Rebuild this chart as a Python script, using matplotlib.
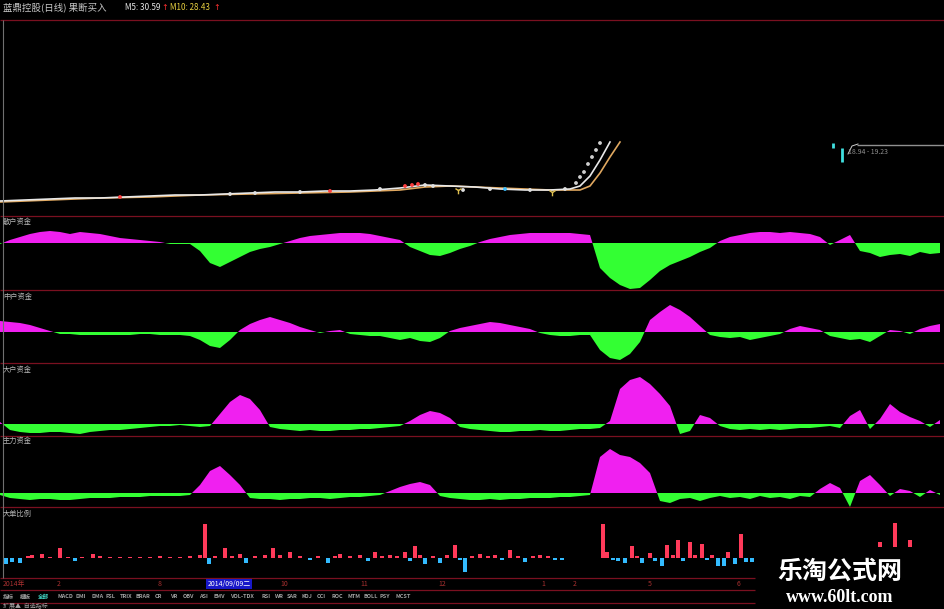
import numpy as np
import matplotlib
matplotlib.use("Agg")
import matplotlib.pyplot as plt
from matplotlib.patches import Rectangle

plt.rcParams['font.family'] = ['Noto Sans CJK SC', 'DejaVu Sans']

# ---- data (units = screen px relative to each zero line) ----
STEP = 10
retail = [-1, 3, 6, 9, 11, 12, 11, 9, 11, 10,
          9, 7, 5, 4, 3, 2, 1, -1, -1, -1,
          -8, -20, -24, -19, -14, -9, -6, -4, -1, 2,
          5, 7, 8, 9, 10, 10, 10, 9, 7, 5,
          3, -4, -8, -12, -13, -10, -6, -3, 1, 4,
          6, 8, 9, 10, 10, 10, 10, 10, 9, 8,
          -25, -35, -42, -46, -45, -37, -28, -22, -18, -14,
          -9, -5, 2, 6, 8, 10, 11, 11, 10, 11,
          10, 9, 6, -2, 3, 8, -8, -10, -14, -12,
          -11, -13, -9, -11, -10]
middle = [11, 10, 9, 7, 4, 1, -2, -2, -3, -3,
          -3, -3, -3, -3, -2, -2, -3, -3, -3, -4,
          -8, -14, -16, -8, 2, 8, 12, 15, 12, 9,
          5, 2, -1, 1, 2, -2, -3, -4, -4, -6,
          -8, -6, -9, -10, -6, 1, 4, 6, 8, 10,
          9, 7, 5, 3, -1, -3, -4, -4, -3, -3,
          -18, -26, -28, -22, -10, 12, 20, 27, 22, 15,
          6, -3, -5, -6, -5, -8, -6, -4, -2, 3,
          6, 4, 2, -4, -6, -8, -7, -10, -4, 2,
          1, -2, 3, 6, 8]
large = [2, -6, -8, -9, -9, -8, -8, -9, -10, -8,
         -7, -6, -6, -5, -4, -3, -2, -2, -1, -2,
         -3, -2, 10, 22, 29, 25, 14, -3, -5, -6,
         -7, -6, -7, -7, -6, -6, -5, -5, -4, -3,
         -2, 3, 9, 13, 11, 6, -3, -5, -6, -7,
         -8, -8, -7, -7, -6, -7, -7, -6, -5, -5,
         -4, 3, 35, 44, 47, 40, 30, 18, -10, -7,
         9, 6, -2, -5, -6, -5, -6, -5, -6, -5,
         -4, -4, -3, -2, -4, 8, 14, -5, 5, 20,
         12, 7, 3, -3, 4]
main_fund = [-2, -5, -6, -7, -6, -6, -7, -7, -6, -5,
             -5, -5, -4, -4, -4, -3, -3, -3, -3, -2,
             8, 22, 27, 18, 8, -5, -6, -6, -7, -6,
             -6, -5, -5, -6, -5, -4, -4, -3, -2, 2,
             6, 9, 11, 8, -3, -5, -6, -7, -7, -6,
             -7, -6, -6, -5, -5, -5, -4, -4, -3, -2,
             36, 44, 38, 36, 30, 20, -8, -10, -6, -5,
             -8, -5, -3, -5, -4, -6, -3, -5, -4, -6,
             -3, -4, 4, 10, 5, -14, 12, 18, 8, -3,
             4, 2, -4, 3, -2]

bar_x = [6, 12, 20, 28, 32, 42, 50, 60, 68, 75, 82, 93, 100, 110, 120, 130, 140, 150, 160, 170,
         180, 190, 200, 205, 209, 215, 225, 232, 240, 246, 255, 265, 273, 280, 290, 300, 310, 318,
         328, 335, 340, 350, 360, 368, 375, 382, 390, 397, 405, 410, 415, 420, 425, 433, 440, 447,
         455, 460, 465, 472, 480, 488, 495, 502, 510, 518, 525, 533, 540, 548, 555, 562,
         603, 607, 613, 618, 625, 632, 637, 642, 650, 655, 662, 667, 673, 678, 683, 690, 695, 702,
         707, 712, 718, 724, 728, 735, 741, 746, 752,
         865, 880, 895, 910, 925]
bar_v = [-6, -4, -5, 2, 3, 4, 1, 10, 1, -3, 1, 4, 2, 1, 1, 1, 1, 1, 2, 1,
         1, 2, 3, 34, -6, 2, 10, 2, 4, -5, 2, 3, 10, 3, 6, 2, -2, 2,
         -5, 2, 4, 2, 3, -3, 6, 2, 3, 2, 6, -3, 12, 3, -6, 2, -5, 3,
         13, -2, -14, 2, 4, 2, 3, -2, 8, 2, -4, 2, 3, 2, -2, -2,
         34, 6, -2, -3, -5, 12, 2, -5, 5, -3, -8, 13, 3, 18, -3, 16, 3, 14,
         -2, 3, -8, -8, 6, -6, 24, -4, -4,
         10, 16, 35, 18, 3]

ma5_x = [0, 25, 50, 75, 100, 125, 150, 175, 200, 225, 250, 275, 300, 325, 350, 375, 400,
         425, 450, 475, 500, 525, 550, 570, 580, 590, 600, 610]
ma5_h = [15, 16, 17, 18, 18, 19, 20, 21, 21, 22, 23, 24, 24, 25, 25, 26, 28,
         31, 30, 29, 27, 26, 26, 27, 30, 40, 56, 74]
ma10_x = [0, 50, 100, 150, 200, 250, 300, 350, 400, 425, 450, 475, 500, 525, 550, 570,
          580, 590, 600, 610, 620]
ma10_h = [14, 16, 18, 19, 21, 22, 23, 24, 26, 29, 30, 29, 28, 27, 26, 26,
          26, 30, 43, 59, 74]
dot_x = [120, 230, 255, 300, 330, 380, 405, 412, 418, 425, 433, 463, 490, 505, 530, 565,
         576, 580, 584, 588, 592, 596, 600]
dot_h = [19, 22, 23, 24, 25, 27, 30, 31, 32, 31, 30, 26, 27, 27, 26, 27,
         33, 39, 44, 52, 59, 66, 73]
dot_c = ['#ff4040', '#e0e0e0', '#e0e0e0', '#e0e0e0', '#ff4040', '#e0e0e0', '#ff4040', '#ff4040',
         '#ff4040', '#e0e0e0', '#e0e0e0', '#e0e0e0', '#e0e0e0', '#40c0ff', '#e0e0e0', '#e0e0e0',
         '#d0d0d0', '#d0d0d0', '#d0d0d0', '#d0d0d0', '#d0d0d0', '#d0d0d0', '#d0d0d0']
cross_x = [458, 552]
cross_h = [26, 24]

date_labels = ['2014年', '2', '8', '10', '11', '12', '1', '2', '5', '6']
date_pos = [3, 57, 158, 280, 360, 438, 541, 573, 648, 737]
menu_words = ['指标', '模板', '全部', 'MACD', 'DMI', 'DMA', 'FSL', 'TRIX', 'BRAR', 'CR', 'VR', 'OBV',
              'ASI', 'EMV', 'VOL-TDX', 'RSI', 'WR', 'SAR', 'KDJ', 'CCI', 'ROC', 'MTM', 'BOLL',
              'PSY', 'MCST']
menu_pos = [3, 20, 38, 57, 76, 91, 106, 120, 135, 155, 170, 183, 199, 214, 230, 261, 275, 287,
            302, 317, 332, 347, 363, 380, 395]

W, H = 945, 609
MAG, GRN = '#f020f0', '#33ff33'
SEP = '#7a1020'

fig = plt.figure(figsize=(W / 100, H / 100), dpi=100, facecolor='black')


def panel(top, bot):
    ax = fig.add_axes([0, 1 - bot / H, 1, (bot - top) / H])
    ax.set_facecolor('black')
    ax.set_xlim(0, W)
    ax.axis('off')
    return ax


# price panel
axp = panel(20, 216)
axp.set_ylim(0, 196)
axp.plot(ma10_x, ma10_h, color='#e0a860', lw=1.2)
axp.plot(ma5_x, ma5_h, color='#e8e8e8', lw=1.2)
axp.scatter(dot_x, dot_h, s=3, c=dot_c, zorder=3)
axp.scatter(cross_x, cross_h, s=30, marker='1', c='#e0c050', lw=1, zorder=3)
axp.vlines([833, 842], [68, 54], [73, 68], color='#40e0e0', lw=2)
axp.plot([848, 852, 858], [62, 70, 72], color='#d0d0d0', lw=0.7)
axp.hlines(71, 857, W, color='#909090', lw=1)
axp.text(848, 64, '18.94 - 19.23', color='#909090', fontsize=5, va='center')

# fund panels
x = np.arange(len(retail)) * STEP
for (top, bot, zero), vals in zip([(216, 290, 243), (290, 363, 332),
                                    (363, 436, 424), (436, 507, 493)],
                                   [retail, middle, large, main_fund]):
    ax = panel(top, bot)
    ax.set_ylim(-(bot - zero), zero - top)
    v = np.array(vals, dtype=float)
    ax.fill_between(x, v, 0, where=v >= 0, interpolate=True, color=MAG, lw=0)
    ax.fill_between(x, v, 0, where=v <= 0, interpolate=True, color=GRN, lw=0)

# big-order ratio bars
axb = panel(507, 578)
axb.set_ylim(-(578 - 558), 558 - 507)
bv = np.array(bar_v)
axb.bar(bar_x, bv, width=3.2, color=np.where(bv >= 0, '#ff3a5a', '#33bbff'), lw=0)

# overlay: separators, labels, watermark
ov = fig.add_axes([0, 0, 1, 1])
ov.set_zorder(10)
ov.patch.set_alpha(0)
ov.set_xlim(0, W)
ov.set_ylim(H, 0)
ov.axis('off')
ov.hlines([20, 216, 290, 363, 436, 507], 0, W, color=SEP, lw=0.9)
ov.hlines([578, 590, 603], 0, 755, color=SEP, lw=0.9)
ov.vlines(3, 20, 578, color='#707070', lw=0.8)

ov.text(3, 7, '蓝鼎控股(日线) 果断买入', color='#c8c8c8', fontsize=6.8, va='center')
ov.text(125, 7, 'M5: 30.59', color='#e8e8e8', fontsize=5.8, va='center')
ov.text(161, 7, '↑', color='#ff3030', fontsize=5.8, va='center', family=['DejaVu Sans'])
ov.text(170, 7, 'M10: 28.43', color='#e8d040', fontsize=5.8, va='center')
ov.text(213, 7, '↑', color='#ff3030', fontsize=5.8, va='center', family=['DejaVu Sans'])

for yy, lab in zip([222, 297, 370, 441, 514], ['散户资金', '中户资金', '大户资金', '主力资金', '大单比例']):
    ov.text(3, yy, lab, color='#b8b8b8', fontsize=5.2, va='center')

for xx, lab in zip(date_pos, date_labels):
    ov.text(xx, 584, lab, color='#a83030', fontsize=5, va='center')
ov.text(229, 584, '2014/09/09二', color='white', fontsize=5, va='center', ha='center',
        bbox=dict(boxstyle='square,pad=0.15', fc='#1818c8', ec='none'))

for xx, w in zip(menu_pos, menu_words):
    ov.text(xx, 597, w, color='#40d0c0' if w == '全部' else '#a0a0a0', fontsize=4.0,
            va='center', fontweight='bold')
ov.text(3, 605, '扩展▲  自选指标', color='#a0a0a0', fontsize=4.3, va='center')

ov.add_patch(Rectangle((756, 547), W - 756, H - 547, fc='black', ec='none'))
ov.text(840, 572, '乐淘公式网', color='white', fontsize=18, fontweight='bold',
        ha='center', va='center')
ov.text(840, 597, 'www.60lt.com', color='white', fontsize=13, fontweight='bold',
        ha='center', va='center', family=['Liberation Serif', 'DejaVu Serif'])

fig.savefig('out.png', dpi=100, facecolor='black')
